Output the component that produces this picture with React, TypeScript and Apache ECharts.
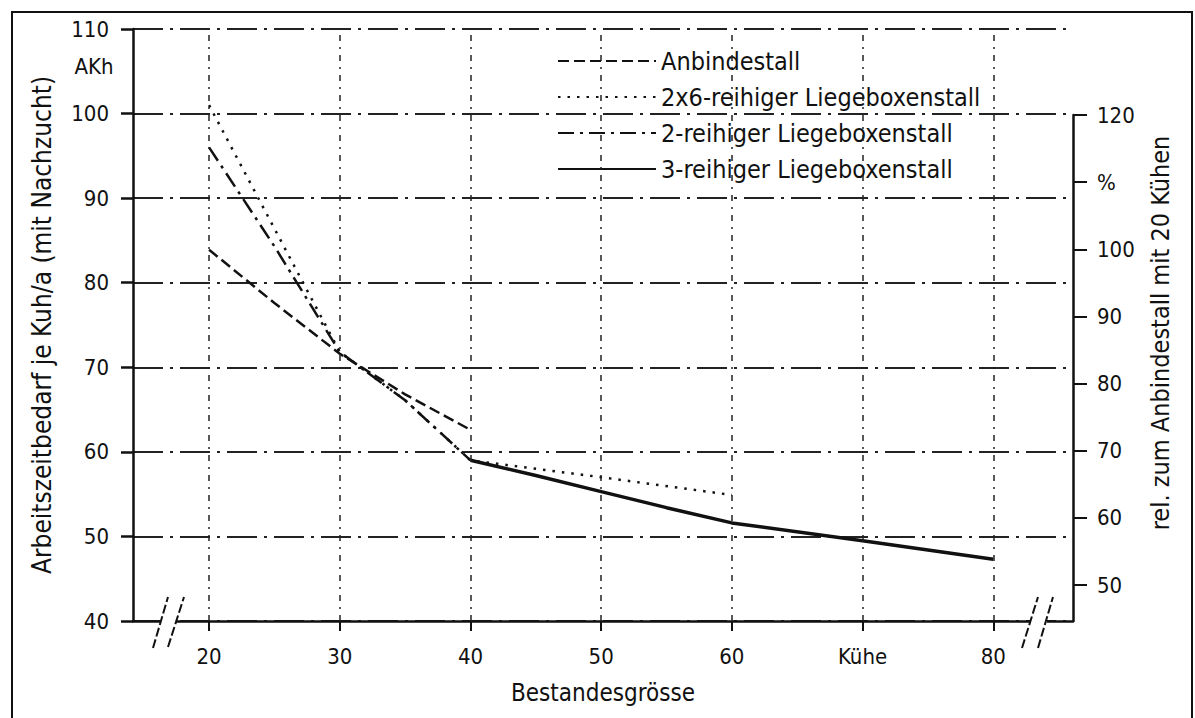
import React, { useEffect, useRef } from "react";
import * as echarts from "echarts";

// ---- data ----
const xTicks = [20, 30, 40, 50, 60, 70, 80];
const xTickLabels = ["20", "30", "40", "50", "60", "Kühe", "80"];
const rightTicks = [50, 60, 70, 80, 90, 100, 110, 120];
const rightTickLabels = ["50", "60", "70", "80", "90", "100", "%", "120"];

const seriesNames = [
  "Anbindestall",
  "2x6-reihiger Liegeboxenstall",
  "2-reihiger Liegeboxenstall",
  "3-reihiger Liegeboxenstall",
];

const anbindeX = [20, 25, 30, 35, 40];
const anbindeY = [83.9, 77.6, 71.6, 66.8, 62.6];
const boxen2x6X = [20, 25, 30, 35, 40, 50, 60];
const boxen2x6Y = [101.0, 86.4, 71.8, 66.1, 59.0, 57.0, 54.9];
const boxen2X = [20, 25, 30, 35, 40];
const boxen2Y = [96.0, 84.3, 71.8, 66.1, 59.0];
const boxen3X = [40, 45, 50, 55, 60, 70, 80];
const boxen3Y = [59.0, 57.2, 55.3, 53.4, 51.6, 49.5, 47.3];

const FONT = "'DejaVu Sans Condensed', 'Liberation Sans Narrow', 'DejaVu Sans', sans-serif";
const INK = "#111";

const zip = (xs: number[], ys: number[]) => xs.map((x, i) => [x, ys[i]]);

export default function App() {
  const ref = useRef<HTMLDivElement>(null);

  useEffect(() => {
    if (!ref.current) return;
    const chart = echarts.init(ref.current, undefined, { renderer: "svg" });

    const gridL = 133;
    const gridR = 122;
    const gridT = 29;
    const gridB = 97;

    const option: any = {
      animation: false,
      backgroundColor: "#fff",
      textStyle: { fontFamily: FONT, color: INK },
      grid: [
        { left: gridL, right: gridR, top: gridT, bottom: gridB },
        { left: gridL, right: gridR, top: 115, bottom: gridB },
      ],
      legend: {
        orient: "vertical",
        left: 552,
        top: 43,
        padding: 5,
        itemWidth: 98,
        itemHeight: 14,
        itemGap: 10,
        itemTextGap: 12,
        itemStyle: { opacity: 0 },
        textStyle: { fontFamily: FONT, fontSize: 25, color: INK, lineHeight: 26 },
        data: seriesNames,
      },
      xAxis: [
        {
          type: "value",
          gridIndex: 0,
          min: 14.18,
          max: 86.1,
          axisLine: { show: true, onZero: false, lineStyle: { color: INK, width: 2.5 } },
          axisTick: {
            show: true,
            customValues: xTicks,
            length: 10,
            lineStyle: { color: INK, width: 2 },
          },
          axisLabel: {
            customValues: xTicks,
            formatter: (v: number) => xTickLabels[xTicks.indexOf(v)] ?? "",
            margin: 24,
            fontSize: 22,
            fontFamily: FONT,
            color: INK,
          },
          splitLine: { show: false },
          name: "Bestandesgrösse",
          nameLocation: "middle",
          nameGap: 60,
          nameTextStyle: { fontSize: 24, fontFamily: FONT, color: INK },
        },
        { type: "value", gridIndex: 1, show: false, min: 0, max: 1 },
      ],
      yAxis: [
        {
          type: "value",
          gridIndex: 0,
          position: "left",
          min: 40,
          max: 110,
          interval: 10,
          axisLine: { show: true, onZero: false, lineStyle: { color: INK, width: 2.5 } },
          axisTick: { show: true, length: 12, lineStyle: { color: INK, width: 2.5 } },
          axisLabel: { margin: 24, fontSize: 22, fontFamily: FONT, color: INK },
          splitLine: {
            show: true,
            lineStyle: { color: "#222", width: 2, type: [30, 7, 3, 7] },
          },
          name: "Arbeitszeitbedarf je Kuh/a (mit Nachzucht)",
          nameLocation: "middle",
          nameGap: 78,
          nameTextStyle: { fontSize: 26, fontFamily: FONT, color: INK },
        },
        {
          type: "value",
          gridIndex: 0,
          position: "right",
          min: 44.64,
          max: 132.81,
          axisLine: { show: false, onZero: false },
          axisTick: {
            show: true,
            customValues: rightTicks,
            length: 14,
            lineStyle: { color: INK, width: 2 },
          },
          axisLabel: {
            customValues: rightTicks,
            formatter: (v: number) => rightTickLabels[rightTicks.indexOf(v)] ?? "",
            margin: 24,
            fontSize: 22,
            fontFamily: FONT,
            color: INK,
          },
          splitLine: { show: false },
        },
        {
          type: "value",
          gridIndex: 1,
          position: "right",
          min: 0,
          max: 1,
          axisLine: { show: true, onZero: false, lineStyle: { color: INK, width: 2.5 } },
          axisTick: { show: false },
          axisLabel: { show: false },
          splitLine: { show: false },
        },
      ],
      series: [
        {
          name: seriesNames[0],
          type: "line",
          xAxisIndex: 0,
          yAxisIndex: 0,
          symbol: "none",
          data: zip(anbindeX, anbindeY),
          lineStyle: { color: INK, width: 2.5, type: [11, 5] },
          itemStyle: { color: INK },
          markLine: {
            silent: true,
            symbol: ["none", "none"],
            label: { show: false },
            lineStyle: { color: "#222", width: 1.5, type: [6, 6, 2, 6] },
            data: xTicks.map((v) => ({ xAxis: v })),
          },
        },
        {
          name: seriesNames[1],
          type: "line",
          xAxisIndex: 0,
          yAxisIndex: 0,
          symbol: "none",
          data: zip(boxen2x6X, boxen2x6Y),
          lineStyle: { color: INK, width: 2.5, type: [2.5, 7] },
          itemStyle: { color: INK },
        },
        {
          name: seriesNames[2],
          type: "line",
          xAxisIndex: 0,
          yAxisIndex: 0,
          symbol: "none",
          data: zip(boxen2X, boxen2Y),
          lineStyle: { color: INK, width: 2.5, type: [16, 6, 3, 6] },
          itemStyle: { color: INK },
        },
        {
          name: seriesNames[3],
          type: "line",
          xAxisIndex: 0,
          yAxisIndex: 0,
          symbol: "none",
          data: zip(boxen3X, boxen3Y),
          lineStyle: { color: INK, width: 3.5, type: "solid" },
          itemStyle: { color: INK },
        },
      ],
      graphic: [
        {
          type: "rect",
          shape: { x: 12, y: 12, width: 1180, height: 740 },
          style: { fill: "none", stroke: INK, lineWidth: 2 },
          silent: true,
          z: 0,
        },
        {
          type: "text",
          x: 94,
          y: 66,
          style: {
            text: "AKh",
            fontSize: 22,
            fontFamily: FONT,
            fill: INK,
            textAlign: "center",
            textVerticalAlign: "middle",
          },
          z: 10,
        },
        {
          type: "text",
          x: 1160,
          y: 333,
          rotation: Math.PI / 2,
          style: {
            text: "rel. zum Anbindestall mit 20 Kühen",
            fontSize: 25,
            fontFamily: FONT,
            fill: INK,
            textAlign: "center",
            textVerticalAlign: "middle",
          },
          z: 10,
        },
        // axis break, left
        { type: "rect", shape: { x: 161, y: 614, width: 15, height: 14 }, style: { fill: "#fff" }, z: 20 },
        { type: "line", shape: { x1: 153, y1: 648, x2: 168, y2: 597 }, style: { stroke: INK, lineWidth: 2, lineDash: [9, 3] }, z: 21 },
        { type: "line", shape: { x1: 168, y1: 647, x2: 184, y2: 597 }, style: { stroke: INK, lineWidth: 2, lineDash: [9, 3] }, z: 21 },
        // axis break, right
        { type: "rect", shape: { x: 1031, y: 614, width: 16, height: 14 }, style: { fill: "#fff" }, z: 20 },
        { type: "line", shape: { x1: 1022, y1: 648, x2: 1038, y2: 597 }, style: { stroke: INK, lineWidth: 2, lineDash: [9, 3] }, z: 21 },
        { type: "line", shape: { x1: 1038, y1: 648, x2: 1053, y2: 597 }, style: { stroke: INK, lineWidth: 2, lineDash: [9, 3] }, z: 21 },
      ],
    };

    chart.setOption(option);
    return () => chart.dispose();
  }, []);

  return (
    <div
      ref={ref}
      style={{ position: "fixed", left: 0, top: 0, width: 1195, height: 718, background: "#fff" }}
    />
  );
}
